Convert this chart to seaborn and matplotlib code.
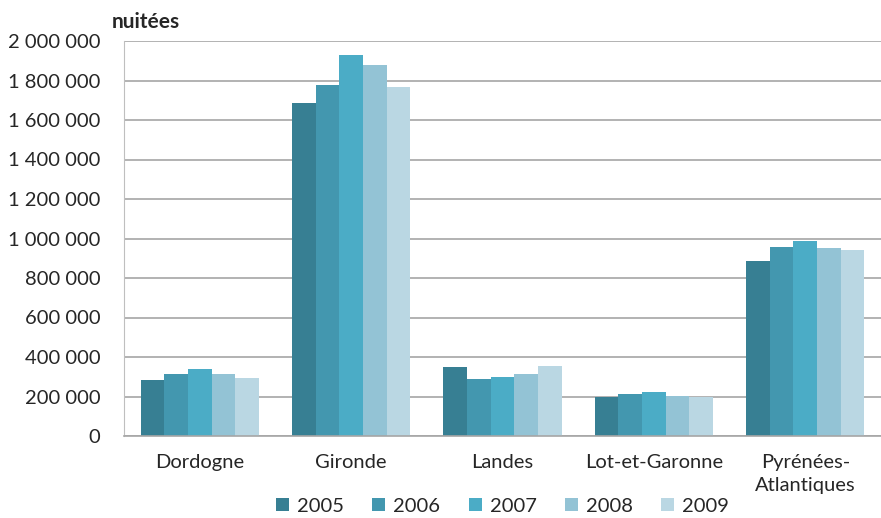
import matplotlib
matplotlib.use('Agg')
import matplotlib.pyplot as plt
from matplotlib.ticker import FuncFormatter, FixedLocator
import seaborn as sns
import pandas as pd

departements = ["Dordogne", "Gironde", "Landes", "Lot-et-Garonne", "Pyrénées-\nAtlantiques"]
annees = ["2005", "2006", "2007", "2008", "2009"]
nuitees = {
    "2005": [285000, 1685000, 348000, 199000, 886000],
    "2006": [312000, 1776000, 287000, 214000, 955000],
    "2007": [339000, 1929000, 297000, 223000, 987000],
    "2008": [312000, 1877000, 316000, 204000, 950000],
    "2009": [292000, 1767000, 353000, 199000, 942000],
}
couleurs = ["#377f93", "#4397af", "#4bacc6", "#93c3d5", "#bad7e3"]

rows = []
for a in annees:
    for d, v in zip(departements, nuitees[a]):
        rows.append({"departement": d, "annee": a, "nuitees": v})
df = pd.DataFrame(rows)

sns.set_style("white")
plt.rcParams['font.family'] = ['Lato', 'DejaVu Sans']

fig = plt.figure(figsize=(8.81, 5.18), dpi=100)
ax = fig.add_axes([124 / 881, 82 / 518, 757 / 881, 395 / 518])

sns.barplot(data=df, x="departement", y="nuitees", hue="annee",
            order=departements, hue_order=annees, palette=couleurs,
            width=0.78, saturation=1, linewidth=0, ax=ax)

ax.set_ylim(0, 2000000)
ax.set_xlim(-0.5, len(departements) - 0.5)
ax.set_yticks(range(0, 2000001, 200000))
ax.yaxis.set_major_formatter(FuncFormatter(lambda v, p: f"{int(v):,}".replace(",", " ")))
ax.yaxis.grid(True, color="#a6a6a6", linewidth=1.2)
ax.set_axisbelow(True)
ax.set_xlabel("")
ax.set_ylabel("")

for s in ["top", "right"]:
    ax.spines[s].set_visible(False)
ax.spines["left"].set_color("#bfbfbf")
ax.spines["bottom"].set_color("#a6a6a6")
ax.spines["bottom"].set_linewidth(1.2)

ax.tick_params(axis="y", length=7, color="#a6a6a6", labelsize=14.5, pad=10)
ax.tick_params(axis="x", which="major", length=0, labelsize=14.5, pad=13)
for lbl in ax.get_xticklabels():
    lbl.set_linespacing(1.4)
ax.xaxis.set_minor_locator(FixedLocator([i - 0.5 for i in range(len(departements) + 1)]))
ax.tick_params(axis="x", which="minor", length=7, color="#a6a6a6")

fig.text(112 / 881, 1 - 22 / 518, "nuitées", fontsize=15, fontweight="bold", va="center")

handles, labels = ax.get_legend_handles_labels()
ax.legend(handles, labels, loc="center", bbox_to_anchor=(0.5, -0.178), ncol=5,
          frameon=False, fontsize=14.5, handlelength=0.65, handleheight=0.65,
          handletextpad=0.4, columnspacing=1.4, borderpad=0)

fig.savefig("out.png", dpi=100)
